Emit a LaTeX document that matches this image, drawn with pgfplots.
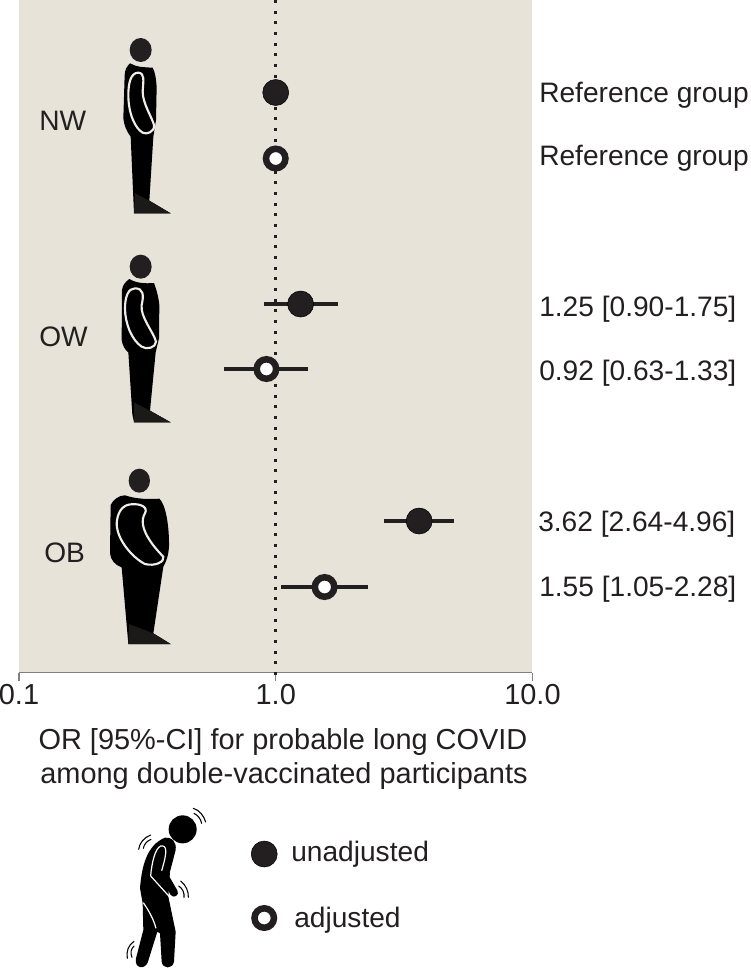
\documentclass[border=0pt]{standalone}
\usepackage{fontspec}
\setmainfont{Liberation Sans}
\usepackage{pgfplots}
\pgfplotsset{compat=1.18}
\definecolor{panel}{HTML}{E7E3D9}
\definecolor{ink}{HTML}{231F20}
\definecolor{axisgray}{HTML}{808080}
\newcommand{\lab}{\fontsize{21.1}{25}\selectfont}
\newcommand{\labb}{\fontsize{21.7}{25}\selectfont}
\pgfplotstableread{
x y
1.00 92.5
1.25 304
3.62 521
}\unadj
\pgfplotstableread{
x y
1.00 158.5
0.92 369
1.55 587
}\adj
\begin{document}
\begin{tikzpicture}[x=0.75pt,y=-0.75pt]
\path[use as bounding box] (0,0) rectangle (750,971);
\begin{axis}[
  at={(14.25pt,-504.375pt)},anchor=south west,
  scale only axis,width=385.1pt,height=504.375pt,
  xmode=log,log basis x=10,
  xmin=0.1,xmax=10,ymin=0,ymax=672.5,y dir=reverse,
  clip=false,
  axis x line*=bottom,axis y line=none,
  axis background/.style={fill=panel},
  axis line style={axisgray,line width=0.9pt,-},
  xtick={0.1,1,10},xticklabels={0.1,1.0,10.0},
  minor xtick={},
  tick style={axisgray,line width=0.9pt},
  tick align=outside,major tick length=6pt,
  xticklabel style={font=\labb,inner sep=0pt,yshift=-3pt,text=ink},
  ytick=\empty,
]
\addplot[ink,line width=2.3pt,dash pattern=on 2.3pt off 5.7pt] coordinates {(1,0) (1,680)};
\addplot[ink,line width=3pt] coordinates {(0.90,304) (1.75,304)};
\addplot[ink,line width=3pt] coordinates {(0.63,369) (1.33,369)};
\addplot[ink,line width=3pt] coordinates {(2.64,521) (4.96,521)};
\addplot[ink,line width=3pt] coordinates {(1.05,587) (2.28,587)};
\addplot[only marks,mark=*,mark size=9.75pt,mark options={fill=ink,draw=none}] table {\unadj};
\addplot[only marks,mark=*,mark size=7.3pt,mark options={fill=white,draw=ink,line width=4.9pt}] table {\adj};
% legend markers
\addplot[only marks,mark=*,mark size=9.75pt,mark options={fill=ink,draw=none}] coordinates {(0.902,854)};
\addplot[only marks,mark=*,mark size=7.3pt,mark options={fill=white,draw=ink,line width=4.9pt}] coordinates {(0.902,918)};
\end{axis}
% labels
\tikzset{t/.style={font=\lab,text=ink,inner sep=0pt,anchor=west}}
\node[t] at (539,95.5) {Reference group};
\node[t] at (539,158.5) {Reference group};
\node[t] at (539,309) {1.25 [0.90-1.75]};
\node[t] at (539,373) {0.92 [0.63-1.33]};
\node[t] at (538,524) {3.62 [2.64-4.96]};
\node[t] at (539,589) {1.55 [1.05-2.28]};
\node[t] at (39,121) {NW};
\node[t] at (39,337) {OW};
\node[t] at (44,553) {OB};
\node[t,anchor=center,font=\labb] at (283,742) {OR [95\%-CI] for probable long COVID};
\node[t,anchor=center,font=\labb] at (284,776) {among double-vaccinated participants};
\node[t] at (291,854.5) {unadjusted};
\node[t] at (294,920.5) {adjusted};
% NW figure
\begin{scope}[shift={(90,30)},x=0.25pt,y=-0.25pt]
\fill[ink] (152,60) ellipse (33 and 36);
\fill[black] (120,100) .. controls (110,110) and (105,118) .. (104,135) -- (100,265) .. controls (102,285) and (110,305) .. (122,320) -- (132,550) -- (242,550) -- (178,512) -- (190,320) -- (198,270) -- (200,170) .. controls (198,145) and (195,125) .. (188,113) .. controls (165,112) and (140,112) .. (120,100) -- cycle;
\fill[ink!80!black] (135,490) -- (178,512) -- (242,550) -- (132,550) -- cycle;
\draw[panel!60!white,line width=1.6pt] (145,128) .. controls (165,130) and (160,150) .. (158,185) .. controls (158,220) and (185,260) .. (192,285) .. controls (195,305) and (170,315) .. (158,308) .. controls (135,295) and (115,250) .. (115,195) .. controls (115,160) and (122,128) .. (145,128) -- cycle;
\end{scope}
% OW figure
\begin{scope}[shift={(90,245)},x=0.25pt,y=-0.25pt]
\fill[ink] (152,65) ellipse (33 and 36);
\fill[black] (118,102) .. controls (108,110) and (98,118) .. (96,135) -- (95,285) .. controls (97,300) and (105,315) .. (115,322) -- (127,508) -- (132,532) -- (242,532) -- (180,497) -- (197,322) -- (207,280) -- (208,180) .. controls (205,150) and (197,128) .. (192,114) .. controls (165,116) and (140,115) .. (118,102) -- cycle;
\fill[ink!80!black] (132,472) -- (180,497) -- (242,532) -- (132,532) -- cycle;
\draw[panel!60!white,line width=1.6pt] (135,130) .. controls (160,130) and (162,150) .. (155,180) .. controls (150,215) and (190,260) .. (198,290) .. controls (198,308) and (170,315) .. (155,305) .. controls (125,285) and (105,235) .. (105,190) .. controls (105,155) and (115,130) .. (135,130) -- cycle;
\end{scope}
% OB figure
\begin{scope}[shift={(90,460)},x=0.25pt,y=-0.25pt]
\fill[ink] (148,62) ellipse (32 and 36);
\fill[black] (62,135) .. controls (68,120) and (88,105) .. (105,106) .. controls (140,118) and (180,118) .. (208,116) .. controls (225,130) and (238,190) .. (237,260) .. controls (235,290) and (228,305) .. (220,320) -- (190,520) -- (242,552) -- (115,552) -- (95,322) .. controls (75,315) and (62,300) .. (60,280) -- cycle;
\fill[ink!80!black] (117,492) -- (190,520) -- (242,552) -- (115,552) -- cycle;
\draw[panel!60!white,line width=1.6pt] (122,133) .. controls (150,130) and (175,140) .. (165,160) .. controls (140,200) and (190,260) .. (220,290) .. controls (225,305) and (195,320) .. (165,312) .. controls (130,295) and (80,240) .. (80,190) .. controls (82,160) and (95,135) .. (122,133) -- cycle;
\end{scope}
% symptomatic figure
\begin{scope}[shift={(110,800)},x=0.25pt,y=-0.25pt]
\fill[black] (218,88) circle (42);
\fill[black] (165,113) .. controls (185,110) and (200,125) .. (197,150) -- (180,215) -- (175,290) -- (197,395) -- (192,485) .. controls (188,508) and (158,508) .. (155,485) -- (150,400) -- (142,395) -- (113,488) .. controls (103,510) and (72,505) .. (78,475) -- (100,390) -- (98,310) -- (90,265) .. controls (95,200) and (110,135) .. (165,113) -- cycle;
\draw[black,line width=6pt,line cap=round] (150,205) -- (192,278);
\draw[white,line width=0.9pt] (122,228) .. controls (125,190) and (135,145) .. (152,138) .. controls (172,135) and (172,155) .. (155,212);
\draw[white,line width=0.9pt] (122,228) -- (180,292);
\draw[white,line width=0.9pt] (100,308) .. controls (115,330) and (130,355) .. (138,385);
\draw[black,line width=0.8pt,line cap=round] (250,25) .. controls (268,30) and (282,48) .. (287,66);
\draw[black,line width=0.8pt,line cap=round] (252,40) .. controls (262,45) and (272,55) .. (275,70);
\draw[black,line width=0.8pt,line cap=round] (86,148) .. controls (88,130) and (102,112) .. (122,105);
\draw[black,line width=0.8pt,line cap=round] (100,145) .. controls (102,132) and (112,122) .. (123,118);
\draw[black,line width=0.8pt,line cap=round] (212,243) .. controls (228,255) and (236,275) .. (235,292);
\draw[black,line width=0.8pt,line cap=round] (206,258) .. controls (218,265) and (224,280) .. (222,292);
\draw[black,line width=0.8pt,line cap=round] (52,475) .. controls (48,455) and (55,435) .. (72,424);
\draw[black,line width=0.8pt,line cap=round] (66,472) .. controls (60,458) and (63,447) .. (72,438);
\end{scope}
\end{tikzpicture}
\end{document}
